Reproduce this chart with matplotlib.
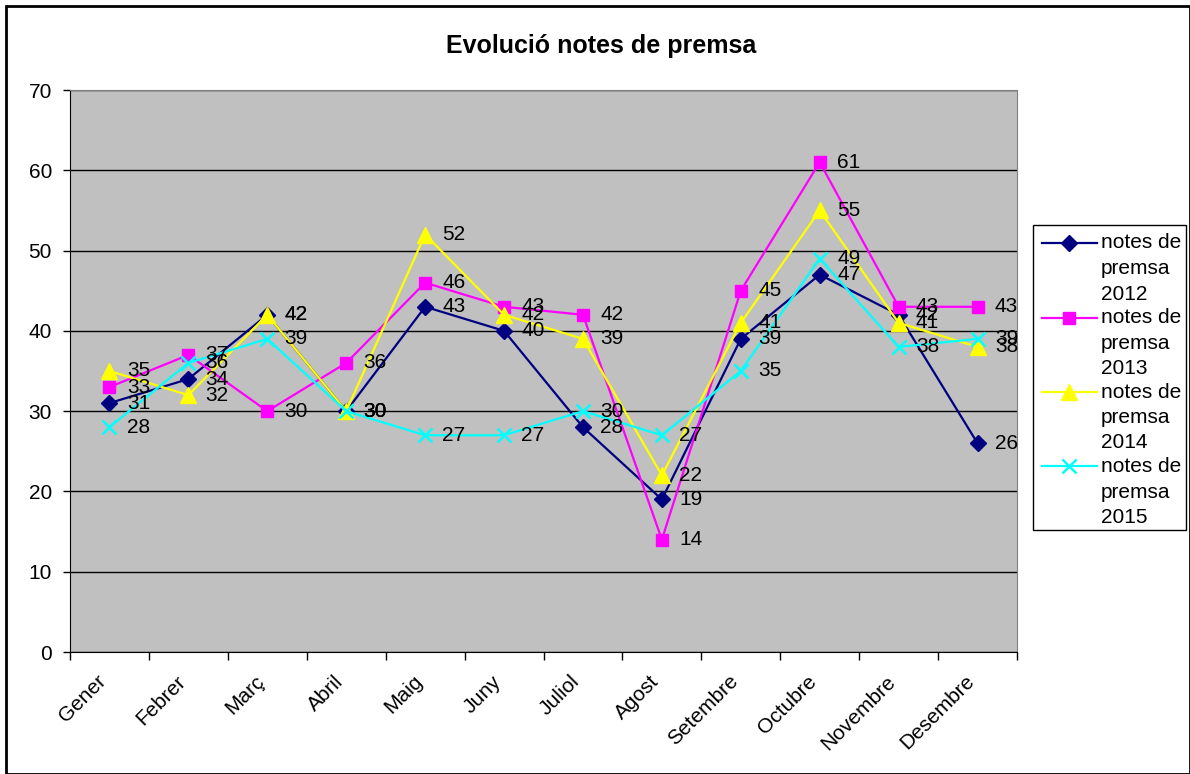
import matplotlib
matplotlib.use("Agg")
import matplotlib.pyplot as plt
import matplotlib.transforms as mtransforms
from matplotlib.patches import Rectangle
from matplotlib.lines import Line2D

months = ["Gener", "Febrer", "Març", "Abril", "Maig", "Juny", "Juliol",
          "Agost", "Setembre", "Octubre", "Novembre", "Desembre"]
s2012 = [31, 34, 42, 30, 43, 40, 28, 19, 39, 47, 42, 26]
s2013 = [33, 37, 30, 36, 46, 43, 42, 14, 45, 61, 43, 43]
s2014 = [35, 32, 42, 30, 52, 42, 39, 22, 41, 55, 41, 38]
s2015 = [28, 36, 39, 30, 27, 27, 30, 27, 35, 49, 38, 39]
series_names = [["notes de", "premsa", "2012"], ["notes de", "premsa", "2013"],
                ["notes de", "premsa", "2014"], ["notes de", "premsa", "2015"]]
title = "Evolució notes de premsa"

plt.rcParams['font.family'] = ['Liberation Sans', 'DejaVu Sans']

fig = plt.figure(figsize=(11.9, 7.74), dpi=100)
W, H = 1190, 774
ax = fig.add_axes([70 / W, 1 - 652 / H, (1017 - 70) / W, (652 - 90) / H])
ax.set_facecolor("#C0C0C0")

x = list(range(len(months)))
styles = [
    (s2012, "#000080", "D", 8),
    (s2013, "#FF00FF", "s", 9),
    (s2014, "#FFFF00", "^", 11),
    (s2015, "#00FFFF", "x", 10),
]
for vals, col, mk, ms in styles:
    ax.plot(x, vals, color=col, marker=mk, markersize=ms, linewidth=1.6,
            markeredgewidth=1.8 if mk == "x" else 1, zorder=3)
    for xi, v in zip(x, vals):
        ax.annotate(str(v), (xi, v), xytext=(12.5, 0), textcoords="offset points",
                    va="center", ha="left", fontsize=15, color="black", zorder=4)

ax.set_xlim(-0.5, len(months) - 0.5)
ax.set_ylim(0, 70)
ax.set_yticks(range(0, 71, 10))
ax.yaxis.grid(True, color="black", linewidth=1)
ax.set_axisbelow(True)
ax.tick_params(axis="y", labelsize=15, length=5, width=1, direction="out", pad=8)
ax.set_xticks([i - 0.5 for i in range(len(months) + 1)], minor=False)
ax.set_xticklabels([])
ax.set_xticks(x, minor=True)
ax.set_xticklabels(months, minor=True, rotation=45, ha="right", va="center",
                   rotation_mode="anchor", fontsize=15)
ax.tick_params(axis="x", which="major", length=6, width=1)
ax.tick_params(axis="x", which="minor", length=0, pad=19)
shift = mtransforms.ScaledTranslation(-6 / 100, 0, fig.dpi_scale_trans)
for lbl in ax.get_xticklabels(minor=True):
    lbl.set_transform(lbl.get_transform() + shift)
ax.spines["left"].set_color("black")
ax.spines["bottom"].set_color("black")
ax.spines["top"].set_color("#808080")
ax.spines["right"].set_color("#808080")

fig.text(601 / W, 1 - 46 / H, title, ha="center", va="center",
         fontsize=18, fontweight="bold")

# Legend (Excel style: handle aligned with the first line of each entry)
fig.patches.append(Rectangle((1033 / W, 1 - 530 / H), (1186 - 1033) / W, (530 - 225) / H,
                             transform=fig.transFigure, facecolor="white",
                             edgecolor="black", linewidth=1))
for i, ((vals, col, mk, ms), lines) in enumerate(zip(styles, series_names)):
    y0 = 243 + i * 74.5
    fig.add_artist(Line2D([1042 / W, 1097 / W], [1 - y0 / H, 1 - y0 / H],
                          transform=fig.transFigure, color=col, linewidth=1.6))
    fig.add_artist(Line2D([1069 / W], [1 - y0 / H], transform=fig.transFigure,
                          color=col, marker=mk, markersize=ms, linestyle="none",
                          markeredgewidth=1.8 if mk == "x" else 1))
    for j, t in enumerate(lines):
        fig.text(1101 / W, 1 - (y0 + j * 25.5) / H, t, ha="left", va="center",
                 fontsize=15)

fig.patches.append(Rectangle((6 / W, 0), (W - 6) / W, 1 - 6 / H, transform=fig.transFigure,
                             fill=False, edgecolor="black", linewidth=2))

fig.savefig("out.png", dpi=100)
